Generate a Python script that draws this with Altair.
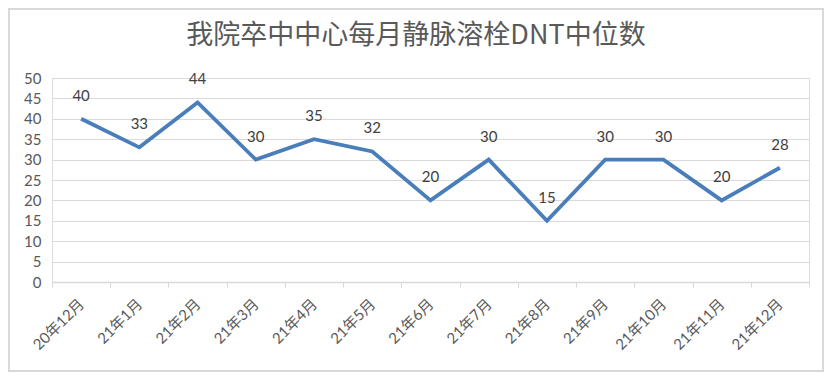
import altair as alt
import pandas as pd

months = ["20年12月", "21年1月", "21年2月", "21年3月", "21年4月", "21年5月", "21年6月",
          "21年7月", "21年8月", "21年9月", "21年10月", "21年11月", "21年12月"]
values = [40, 33, 44, 30, 35, 32, 20, 30, 15, 30, 30, 20, 28]
y_ticks = [0, 5, 10, 15, 20, 25, 30, 35, 40, 45, 50]
title_text = "我院卒中中心每月静脉溶栓DNT中位数"

df = pd.DataFrame({"month": months, "value": values})

W, H = 757, 204
PL, PT, PR, PB = 44, 70, 15, 90
FONT = "Lato, Noto Sans CJK SC, sans-serif"

x_enc = alt.X(
    "month:N", sort=None, bandPosition=0.5,
    scale=alt.Scale(type="band", paddingInner=0, paddingOuter=0),
    axis=alt.Axis(title=None, labelAngle=-45, labelAlign="right", labelBaseline="middle",
                  tickBand="extent", tickSize=5, tickColor="#d9d9d9", domainColor="#d9d9d9",
                  domainWidth=1.5, labelFontSize=15, labelColor="#595959", labelFont=FONT,
                  labelPadding=14, labelOverlap=False, grid=False),
)
y_enc = alt.Y(
    "value:Q",
    scale=alt.Scale(domain=[0, 50], nice=False),
    axis=alt.Axis(title=None, values=y_ticks, domain=False, ticks=False, gridColor="#d9d9d9",
                  gridWidth=1.2, labelFontSize=15, labelColor="#595959", labelFont=FONT,
                  labelPadding=11, labelOverlap=False),
)

base = alt.Chart(df).encode(x=x_enc, y=y_enc)
line = base.mark_line(color="#4a7ebb", strokeWidth=3.8)
labels = base.mark_text(dy=-15, fontSize=15, color="#404040", font=FONT,
                        baseline="bottom").encode(text="value:Q")
border = alt.Chart(alt.Data(values=[{}])).mark_rect(
    fill=None, stroke="#d9d9d9", strokeWidth=2).encode(
    x=alt.value(-PL + 1), x2=alt.value(W + PR - 1), y=alt.value(-PT + 1), y2=alt.value(H + PB - 1))
title = alt.Chart(alt.Data(values=[{"t": title_text}])).mark_text(
    fontSize=27, color="#595959", font="Noto Sans CJK SC", baseline="middle", align="center").encode(
    x=alt.value(364), y=alt.value(-42), text="t:N")

chart = alt.layer(border, title, line, labels).properties(
    width=W, height=H,
    padding={"left": PL, "top": PT, "right": PR, "bottom": PB},
    autosize=alt.AutoSizeParams(type="none"),
).configure_view(stroke=None).configure(background="white")

chart.save("out.html", embed_options={"renderer": "svg", "actions": False})
